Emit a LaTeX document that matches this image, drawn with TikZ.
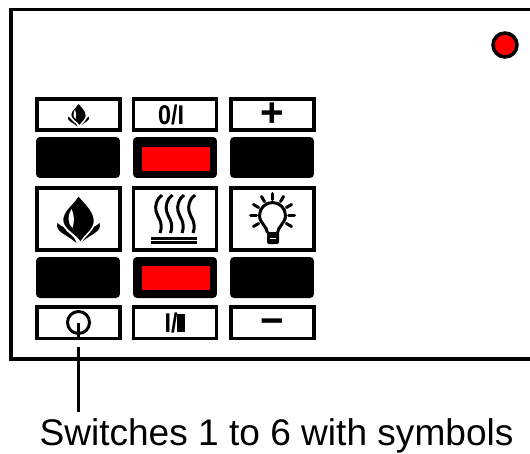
\documentclass[tikz,border=0pt]{standalone}
\usepackage{fontspec}
\setmainfont{Liberation Sans}

\tikzset{
    pics/flame/.style={code={
        \foreach \side in {1,-1} {
            \fill[black, xscale=\side] (-21,4) .. controls (-24,13) and (-12,15) .. (-2,24)
                .. controls (-3,17) and (-12,14) .. (-15,8) .. controls (-17,7) and (-19,6) .. (-21,4);
        }
        \fill[black, draw=white, line width=0.03cm] (0,-24) .. controls (5,-17) and (16,-9) .. (16,2)
            .. controls (16,11) and (6,16) .. (2,24) .. controls (-2,16) and (-16,11) .. (-16,1)
            .. controls (-16,-9) and (-5,-15) .. (0,-24);
        \fill[white] (-7,-10) .. controls (-11,-3) and (-11,5) .. (-6,9)
            .. controls (-4,3) and (-4,-4) .. (-7,-10);
    }},
    pics/heat/.style={code={
        \foreach \x in {-16,-5.5,6,17} {
            \draw[line width=0.06cm] (\x+3,-24) .. controls (\x-3,-20) and (\x-4,-12) .. (\x-3,-8)
                .. controls (\x-2,-2) and (\x+5,3) .. (\x+1,14);
        }
        \draw[line width=0.06cm] (-24,19) -- (22,19);
        \draw[line width=0.06cm] (-24,23) -- (22,23);
    }},
    pics/bulb/.style={code={
        \draw[line width=0.06cm] (-5,14) .. controls (-5,8) and (-13,4) .. (-13,-3.5)
            arc[start angle=180, end angle=360, radius=13] .. controls (13,4) and (5,8) .. (5,14);
        \fill[black, rounded corners=0.04cm] (-5.5,13) rectangle (6.5,25);
        \fill[white] (-2.5,18.5) rectangle (3.5,20);
        \foreach \a in {-210,-180,-150,-120,-90,-60,-30,0,30} {
            \draw[line width=0.06cm, line cap=round, shift={(0,-3.5)}] (\a:16) -- (\a:22);
        }
    }}
}

\begin{document}
\begin{tikzpicture}[x=0.02cm, y=-0.02cm]
    \tikzstyle{frame} = [line width=0.08cm]
    \tikzstyle{labelbox} = [draw, line width=0.07cm, minimum width=1.67cm, minimum height=0.63cm, inner sep=0pt]
    \tikzstyle{symbolbox} = [labelbox, minimum height=1.25cm]
    \tikzstyle{rocker} = [fill=black, rounded corners=0.08cm, minimum width=1.68cm, minimum height=0.82cm, inner sep=0pt]
    \tikzstyle{glow} = [fill=red, minimum width=1.36cm, minimum height=0.48cm, inner sep=0pt]
    \tikzstyle{tag} = [font=\fontsize{14}{14}\selectfont\bfseries]
    \tikzstyle{sign} = [font=\fontsize{23}{23}\selectfont\bfseries]
    \useasboundingbox (0,0) rectangle (530,453);

    \draw[frame] (530,9.5) -| (11,359) -- (530,359);
    \node[circle, draw, fill=red, line width=0.07cm, minimum size=0.48cm, inner sep=0pt] (lamp) at (505,45) {};

    \node[labelbox] (flametag) at (78.5,114.5) {};
    \node[labelbox, tag] (powertag) at (175,114.5) {\hspace*{-0.16cm}\scalebox{0.95}[1.1]{0/I}};
    \node[labelbox, sign] (plustag) at (272.5,114.5) {\raisebox{-0.235cm}[0pt][0pt]{+}};
    \node[rocker] (rockerone) at (78,157.5) {};
    \node[rocker] (rockertwo) at (175,157.5) {};
    \node[rocker] (rockerthree) at (272,157.5) {};
    \node[glow] (glowtop) at (176,159) {};

    \node[symbolbox] (flamebox) at (78.5,219) {};
    \node[symbolbox] (heatbox) at (175,219) {};
    \node[symbolbox] (bulbbox) at (272.5,219) {};

    \node[rocker] (rockerfour) at (78,277.5) {};
    \node[rocker] (rockerfive) at (175,277.5) {};
    \node[rocker] (rockersix) at (272,277.5) {};
    \node[glow] (glowbottom) at (176,278) {};

    \node[labelbox] (knob) at (78.5,322.5) {};
    \node[labelbox, tag] (leveltag) at (175,322.5) {\scalebox{0.95}[1.1]{I/}\rule{0.16cm}{0.36cm}};
    \node[labelbox, sign] (minustag) at (272.5,322.5) {\raisebox{-0.235cm}[0pt][0pt]{−}};

    \pic[scale=0.5] at (flametag) {flame};
    \pic at (flamebox) {flame};
    \pic at (heatbox) {heat};
    \pic at (bulbbox) {bulb};

    \node[circle, draw, line width=0.06cm, minimum size=0.44cm, inner sep=0pt] (ring) at (knob) {};
    \draw[line width=0.07cm] (ring.center) -- (knob.south);

    \node[anchor=base, font=\fontsize{21.1}{21}\selectfont, inner sep=0pt] (caption) at (276.5,445) {Switches 1 to 6 with symbols};
    \draw[line width=0.06cm, shorten <=0.14cm, shorten >=0.12cm] (knob.south) -- (knob.south |- caption.north);
\end{tikzpicture}
\end{document}
